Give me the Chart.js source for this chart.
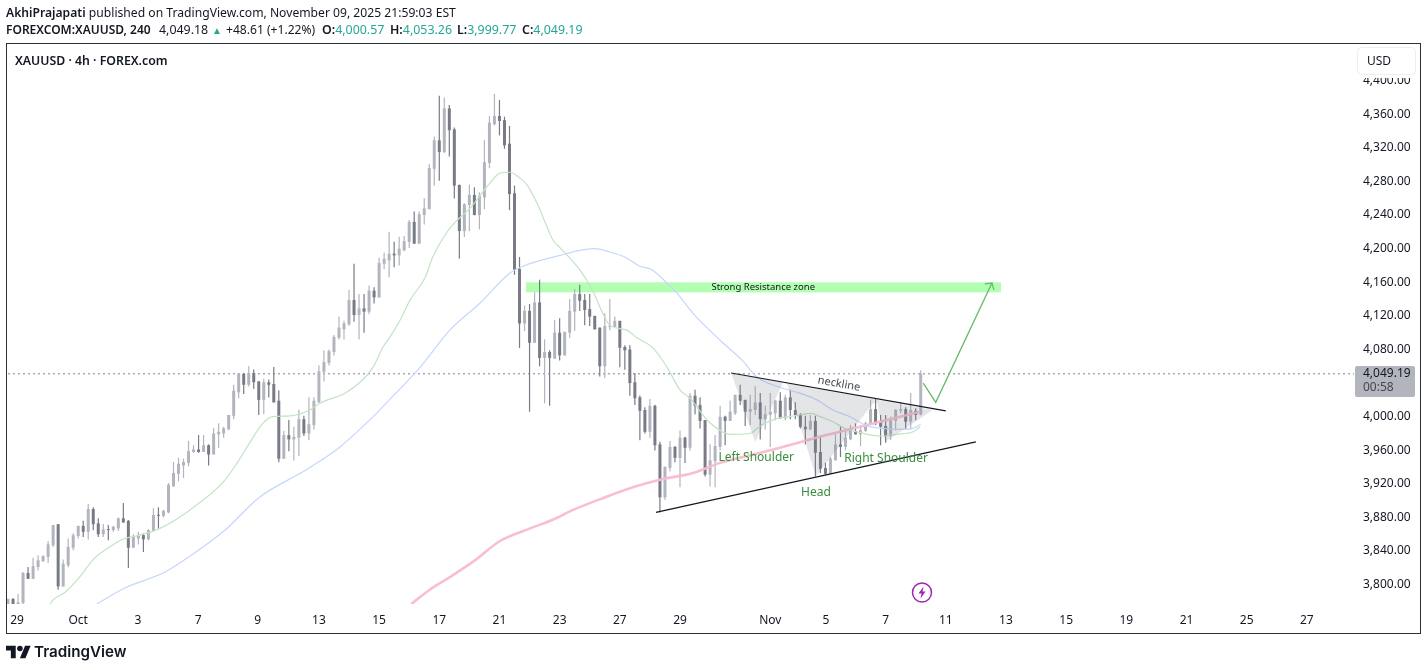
<!DOCTYPE html>
<html>
<head>
<meta charset="utf-8">
<title>XAUUSD</title>
<script src="https://cdn.jsdelivr.net/npm/chart.js@4/dist/chart.umd.min.js"></script>
<style>
    html, body { margin: 0; padding: 0; background: #fff; width: 1427px; height: 670px; overflow: hidden; }
    body { font-family: "Noto Sans", sans-serif; color: #131722; position: relative; }
    #myChart { position: absolute; left: 0; top: 0; }
    .txt { position: absolute; white-space: nowrap; }
    .teal { color: #26a69a; }
    b { font-weight: 600; }
    #frame { position: absolute; left: 6px; top: 43px; width: 1413px; height: 589px; border: 1px solid #2a2e39; }
</style>
</head>
<body>
<div id="frame"></div>
<canvas id="myChart" width="1427" height="670"></canvas>
<div class="txt" style="left:6px;top:4px;font-size:12.15px"><b>AkhiPrajapati</b> published on TradingView.com, November 09, 2025 21:59:03 EST</div>
<div class="txt" style="left:6px;top:21px;font-size:12px"><b>FOREXCOM:XAUUSD, 240</b></div>
<div class="txt" style="left:159px;top:21px;font-size:12.4px">4,049.18</div>
<div class="txt teal" style="left:212px;top:23px;font-size:10px">▲</div>
<div class="txt" style="left:226px;top:21px;font-size:12.1px">+48.61 (+1.22%)</div>
<div class="txt" style="left:322px;top:21px;font-size:12.4px"><b>O:</b><span class="teal">4,000.57</span></div>
<div class="txt" style="left:390px;top:21px;font-size:12.4px"><b>H:</b><span class="teal">4,053.26</span></div>
<div class="txt" style="left:457px;top:21px;font-size:12.4px"><b>L:</b><span class="teal">3,999.77</span></div>
<div class="txt" style="left:522px;top:21px;font-size:12.4px"><b>C:</b><span class="teal">4,049.19</span></div>
<div class="txt" style="left:15px;top:52px;font-size:12.3px;font-weight:600">XAUUSD · 4h · FOREX.com</div>
<svg class="txt" style="left:6px;top:645px" width="25" height="14" viewBox="0 0 36 20"><path fill="#131722" d="M14 19H7V8H0V1h14v18zM28 19h-8l7.5-18h8L28 19z"/><circle fill="#131722" cx="20" cy="5" r="4"/></svg>
<div class="txt" style="left:34px;top:642px;font-family:Inter,sans-serif;font-size:15.2px;font-weight:600">TradingView</div>
<script>
// candles, one per 4h bar
const opens = [3773,3781,3774,3776,3812,3805,3819,3826,3831,3845,
    3870,3796,3821,3842,3856,3868,3861,3888,3871,3858,
    3864,3863,3865,3877,3874,3842,3853,3857,3852,3862,
    3881,3880,3884,3915,3930,3940,3943,3956,3959,3956,
    3964,3953,3977,3978,3983,3999,4027,4049,4036,4050,
    4040,4018,4039,4037,4017,3948,3976,3971,3973,3995,
    3978,3988,4015,4051,4062,4075,4092,4102,4108,4137,
    4119,4127,4123,4148,4140,4180,4184,4192,4190,4196,
    4206,4230,4204,4238,4245,4293,4327,4313,4365,4340,
    4274,4219,4250,4262,4238,4259,4300,4346,4356,4351,
    4323,4264,4174,4109,4124,4086,4134,4068,4075,4067,
    4098,4071,4098,4123,4144,4137,4126,4118,4104,4058,
    4105,4105,4112,4081,4078,4039,4021,4006,3980,4011,
    3965,3902,3937,3962,3949,3973,3961,4023,4012,3994,
    3929,3945,3962,3998,3993,4002,4024,4018,4004,4006,
    4015,3995,4000,4002,4017,3996,4021,4006,4000,3986,
    3983,3993,3956,3937,3930,3946,3965,3962,3971,3981,
    3977,3981,3989,4007,3993,3987,3975,3993,4005,4007,
    3992,4005,4000.57]
const highs = [3781,3782,3787,3813,3819,3830,3833,3833,3850,3869,
    3870,3828,3853,3859,3868,3874,3894,3890,3877,3870,
    3869,3868,3878,3895,3875,3858,3861,3859,3864,3889,
    3890,3887,3919,3944,3949,3948,3969,3964,3976,3976,
    3965,3984,3990,3986,4000,4036,4050,4050,4058,4054,
    4040,4043,4042,4057,4029,3981,3994,3986,4006,3999,
    4021,4021,4059,4077,4078,4095,4117,4112,4149,4180,
    4144,4144,4154,4152,4187,4193,4218,4206,4212,4213,
    4232,4242,4242,4258,4299,4331,4380,4378,4369,4342,
    4274,4252,4274,4271,4265,4327,4356,4382,4375,4355,
    4344,4273,4188,4130,4132,4146,4161,4090,4077,4113,
    4115,4099,4138,4150,4155,4144,4144,4118,4104,4121,
    4138,4117,4112,4083,4083,4050,4023,4009,4019,4012,
    3968,3939,3969,3963,3981,3974,4026,4030,4021,3994,
    3965,3976,4011,3999,4017,4024,4036,4018,4024,4034,
    4026,4011,4026,4018,4027,4024,4030,4015,4002,3999,
    4000,3999,3975,3943,3950,3977,3986,3982,3988,3990,
    3988,3992,4018,4019,4000,4000,3998,4007,4015,4009,
    4026,4008,4053.26]
const lows = [3773,3774,3773,3775,3805,3805,3815,3825,3824,3843,
    3792,3796,3819,3839,3853,3855,3852,3863,3855,3855,
    3851,3861,3862,3872,3818,3842,3846,3837,3851,3861,
    3865,3878,3883,3915,3921,3925,3939,3955,3955,3956,
    3940,3953,3961,3973,3982,3995,4020,4025,4034,4031,
    4000,4001,4021,4015,3944,3948,3957,3946,3951,3975,
    3970,3983,4015,4040,4059,4071,4090,4090,4106,4111,
    4090,4098,4120,4133,4140,4174,4164,4176,4178,4195,
    4199,4204,4204,4227,4245,4273,4279,4312,4308,4258,
    4186,4212,4219,4238,4221,4245,4294,4345,4333,4317,
    4244,4167,4080,4100,4004,4086,4058,4014,4011,4067,
    4065,4071,4092,4100,4124,4107,4106,4102,4046,4044,
    4101,4105,4057,4054,4023,4012,3970,3978,3973,3958,
    3884,3899,3933,3944,3914,3943,3958,4001,3984,3927,
    3915,3914,3958,3964,3993,4000,4012,3987,3988,4000,
    3971,3983,3962,3994,3996,3994,3995,3995,3984,3965,
    3982,3927,3931,3929,3930,3946,3950,3958,3970,3977,
    3963,3980,3989,3988,3964,3967,3970,3982,4002,3983,
    3983,3994,3999.77]
const closes = [3781,3774,3777,3812,3805,3820,3827,3832,3846,3869,
    3796,3823,3843,3857,3868,3861,3888,3870,3858,3864,
    3863,3867,3877,3872,3842,3855,3857,3852,3863,3881,
    3880,3886,3917,3931,3942,3944,3957,3959,3956,3964,
    3953,3978,3980,3984,4000,4029,4049,4036,4050,4039,
    4018,4039,4036,4015,3948,3976,3971,3974,3995,3978,
    3989,4017,4052,4063,4076,4093,4104,4109,4137,4119,
    4127,4123,4148,4140,4181,4186,4192,4190,4198,4207,
    4230,4204,4239,4246,4294,4327,4313,4365,4339,4273,
    4219,4251,4262,4238,4261,4301,4348,4356,4350,4321,
    4263,4173,4109,4124,4086,4134,4068,4075,4068,4098,
    4071,4099,4124,4144,4136,4125,4117,4102,4058,4106,
    4106,4112,4080,4077,4038,4020,4005,3980,4011,3964,
    3902,3938,3962,3949,3973,3961,4023,4011,3993,3929,
    3946,3963,3998,3993,4004,4024,4017,4004,4007,4015,
    3995,4001,4004,4017,3996,4021,4006,4000,3986,3983,
    3993,3955,3936,3930,3948,3965,3962,3973,3982,3977,
    3982,3990,4007,3990,3986,3975,3994,4006,4007,3992,
    4006,4000,4049.19]

// moving averages, sampled by eye at these bar numbers
const greenBars = [8.4,9,11.4,14.4,17.3,20.3,22.9,26.3,30.3,36.3,42.9,45.7,48.3,50.8,52.8,56.2,60.2,62.2,67.2,70.2,72.8,74.8,76.2,78.2,80.2,83.2,84.7,87.1,89.1,92.1,96.1,98.1,100.1,102.1,103.5,105.5,107.5,108.7,110.1,114,116.5,118.6,120,123.4,125.4,128.6,131.4,134,136,139.4,142.4,144,148,149.4,150.9,153.5,155.9,160.3,161.9,164.5,166.9,169.9,173.9,177.3,180.5,181.9]
const greenVals = [3775,3780,3789,3808,3830,3843,3852,3857,3865,3887,3920,3943,3968,3990,3998,3999,4006,4014,4026,4039,4057,4081,4093,4113,4137,4164,4188,4214,4229,4246,4276,4288,4289,4282,4274,4252,4224,4208,4199,4173,4149,4121,4107,4101,4092,4080,4057,4030,4020,3994,3980,3977,3978,3984,3990,3996,3998,4002,3998,3992,3984,3979,3975,3977,3980,3986]
const blueBars = [17.7,23.3,31.3,36.3,43.3,49.9,59.8,66.2,72.8,76.2,82.2,88.1,94.1,100.1,103.1,110.1,114,117,120,123,126,128.4,131.4,133.4,136.6,142,146.4,149.4,153.9,157.9,161.3,164.5,167.9,171.3,174.5,177.9,180.5,182]
const blueVals = [3775,3794,3813,3832,3863,3901,3936,3962,3998,4019,4057,4101,4133,4169,4178,4190,4196,4198,4194,4188,4177,4173,4157,4145,4121,4089,4065,4045,4033,4026,4018,4006,3998,3987,3984,3983,3984,3989]
const pinkBars = [80.4,84.1,88.1,93.1,98.1,104.1,108.5,112.7,118.6,124.6,130,136.6,142,148,154.5,161.9,171.3,177.9,181.9]
const pinkVals = [3775,3792,3807,3827,3850,3865,3875,3887,3901,3914,3923,3931,3943,3952,3962,3974,3988,3998,4004]

// axis labels
const dateBars = [1.8,14,25.9,37.9,49.8,62,74,86,98,110,122,134,152,163.1,175,187,199,211,223,235,247,259]
const dateLabels = ['29','Oct','3','7','9','13','15','17','21','23','27','29','Nov','5','7','11','13','15','19','21','25','27']
const priceTicks = [3800,3840,3880,3920,3960,4000,4040,4080,4120,4160,4200,4240,4280,4320,4360,4400]
const lastPrice = 4049.19

// drawings on the chart, [bar, price]
const necklineLine = [[144.2,4050],[187,4005]]
const supportLine = [[129.2,3884],[193,3968]]
const arrowPath = [[182.5,4038],[185,4015],[196.2,4157],[194.8,4156],[196.2,4157],[196.6,4149]]
const patternShape = [[144.2,4050],[149,3968],[154.5,4038],[155.3,4038],[161.1,3927],[172.5,4014],[173.3,4015],[174.9,3968],[184.4,4006]]
const zoneBars = [103.3,198]
const zonePrices = [4146,4158]

const toXY = (pts) => pts.map(p => ({x: p[0], y: p[1]}))
const zip = (xs, ys) => xs.map((v, i) => ({x: v, y: ys[i]}))
const candleColor = closes.map((c, i) => c >= opens[i] ? '#b2b5be' : '#787b86')

function lineSet(data, color, width, order, dash){
    return {type: 'line', data: data, borderColor: color, borderWidth: width, borderDash: dash || [], pointRadius: 0, tension: 0, fill: false, order: order}
}

function maSet(data, color, width){
    return Object.assign(lineSet(data, color, width, 4), {cubicInterpolationMode: 'monotone'})
}

const overlays = {
    id: 'overlays',
    beforeDatasetsDraw(chart){
        const x = chart.scales.x, y = chart.scales.y, ctx = chart.ctx
        ctx.save()
        ctx.fillStyle = '#b2ffb2'
        ctx.fillRect(x.getPixelForValue(zoneBars[0]), y.getPixelForValue(zonePrices[1]),
            x.getPixelForValue(zoneBars[1]) - x.getPixelForValue(zoneBars[0]),
            y.getPixelForValue(zonePrices[0]) - y.getPixelForValue(zonePrices[1]))
        ctx.restore()
    },
    afterDatasetsDraw(chart){
        const x = chart.scales.x, y = chart.scales.y, ctx = chart.ctx
        const px = (b) => x.getPixelForValue(b), py = (p) => y.getPixelForValue(p)
        ctx.save()
        // head and shoulders shape
        ctx.fillStyle = 'rgba(120,123,134,0.2)'
        ctx.beginPath()
        patternShape.forEach((p, i) => i ? ctx.lineTo(px(p[0]), py(p[1])) : ctx.moveTo(px(p[0]), py(p[1])))
        ctx.closePath()
        ctx.fill()

        ctx.textAlign = 'center'
        ctx.textBaseline = 'middle'
        ctx.fillStyle = '#131722'
        ctx.font = '9.5px "Noto Sans"'
        ctx.fillText('Strong Resistance zone', px(150.6), py(4152))
        ctx.fillStyle = '#388e3c'
        ctx.font = '12px "Noto Sans"'
        ctx.fillText('Left Shoulder', px(149.2), py(3949))
        ctx.fillText('Right Shoulder', px(175.1), py(3948))
        ctx.fillText('Head', px(161.1), py(3908))
        ctx.save()
        ctx.translate(px(165.7), py(4037))
        ctx.rotate(10 * Math.PI / 180)
        ctx.fillStyle = '#434651'
        ctx.font = '11px "Noto Sans"'
        ctx.fillText('neckline', 0, 0)
        ctx.restore()

        // bolt marker
        ctx.strokeStyle = '#9c27b0'
        ctx.lineWidth = 1.5
        ctx.beginPath()
        ctx.arc(922, 592.5, 9.5, 0, Math.PI * 2)
        ctx.stroke()
        ctx.fillStyle = '#9c27b0'
        ctx.beginPath()
        ctx.moveTo(923.5, 586.5); ctx.lineTo(918.5, 593.5); ctx.lineTo(921.5, 593.5)
        ctx.lineTo(920.5, 598.5); ctx.lineTo(925.5, 591.5); ctx.lineTo(922.5, 591.5)
        ctx.closePath()
        ctx.fill()
        ctx.restore()
    },
    afterDraw(chart){
        const ctx = chart.ctx
        ctx.save()
        // last price tag
        ctx.fillStyle = '#b2b5be'
        ctx.beginPath()
        ctx.roundRect(1355, 366, 60, 31, 2)
        ctx.fill()
        ctx.fillStyle = '#131722'
        ctx.font = '12px "Noto Sans"'
        ctx.textAlign = 'left'
        ctx.textBaseline = 'middle'
        ctx.fillText(lastPrice.toLocaleString('en-US', {minimumFractionDigits: 2}), 1363, 374)
        ctx.fillStyle = '#434651'
        ctx.fillText('00:58', 1363, 388)
        // currency button
        ctx.fillStyle = '#fff'
        ctx.fillRect(1357, 47, 60, 31)
        ctx.strokeStyle = '#eceef2'
        ctx.lineWidth = 1
        ctx.beginPath()
        ctx.roundRect(1357.5, 47.5, 58, 27, 4)
        ctx.stroke()
        ctx.fillStyle = '#131722'
        ctx.fillText('USD', 1367, 61.5)
        ctx.restore()
    }
}

const config = {
    data: {
        datasets: [
            lineSet([{x: -1, y: lastPrice}, {x: 270, y: lastPrice}], '#a6a9b3', 1.5, 9, [2, 3]),
            {type: 'bar', data: highs.map((h, i) => ({x: i, y: [lows[i], h]})), backgroundColor: candleColor, barThickness: 1, inflateAmount: 0.1, grouped: false, order: 6},
            {type: 'bar', data: opens.map((o, i) => ({x: i, y: [o, closes[i]]})), backgroundColor: candleColor, barThickness: 3, inflateAmount: 0, minBarLength: 1, grouped: false, order: 5},
            maSet(zip(greenBars, greenVals), '#c3e3c4', 1.2),
            maSet(zip(blueBars, blueVals), '#c6d6fb', 1.2),
            maSet(zip(pinkBars, pinkVals), 'rgba(248,187,208,0.95)', 2.6),
            lineSet(toXY(necklineLine), '#131722', 1.2, 2),
            lineSet(toXY(supportLine), '#131722', 1.2, 2),
            lineSet(toXY(arrowPath), '#66bb6a', 1.3, 2)
        ]
    },
    options: {
        responsive: false,
        devicePixelRatio: 1,
        animation: false,
        layout: {padding: {left: 7, top: 44, right: 0, bottom: 0}},
        plugins: {legend: {display: false}, tooltip: {enabled: false}},
        scales: {
            x: {
                type: 'linear',
                offset: false,
                min: -0.2,
                max: 268.4,
                grid: {display: false},
                border: {display: false},
                afterBuildTicks: (scale) => { scale.ticks = dateBars.map(v => ({value: v})) },
                afterFit: (scale) => { scale.height = 66 },
                ticks: {
                    autoSkip: false,
                    maxRotation: 0,
                    padding: 1,
                    color: '#131722',
                    font: {family: '"Noto Sans"', size: 12},
                    callback: (v) => dateLabels[dateBars.indexOf(v)]
                }
            },
            y: {
                position: 'right',
                min: 3775,
                max: 4441.67,
                grid: {display: false},
                border: {display: false},
                afterBuildTicks: (scale) => { scale.ticks = priceTicks.map(v => ({value: v})) },
                afterFit: (scale) => { scale.width = 73 },
                ticks: {
                    autoSkip: false,
                    padding: 1,
                    labelOffset: 1.5,
                    color: '#131722',
                    font: {family: '"Noto Sans"', size: 12},
                    callback: (v) => v.toLocaleString('en-US', {minimumFractionDigits: 2})
                }
            }
        }
    },
    plugins: [overlays]
}

new Chart(document.getElementById('myChart'), config)
</script>
</body>
</html>
